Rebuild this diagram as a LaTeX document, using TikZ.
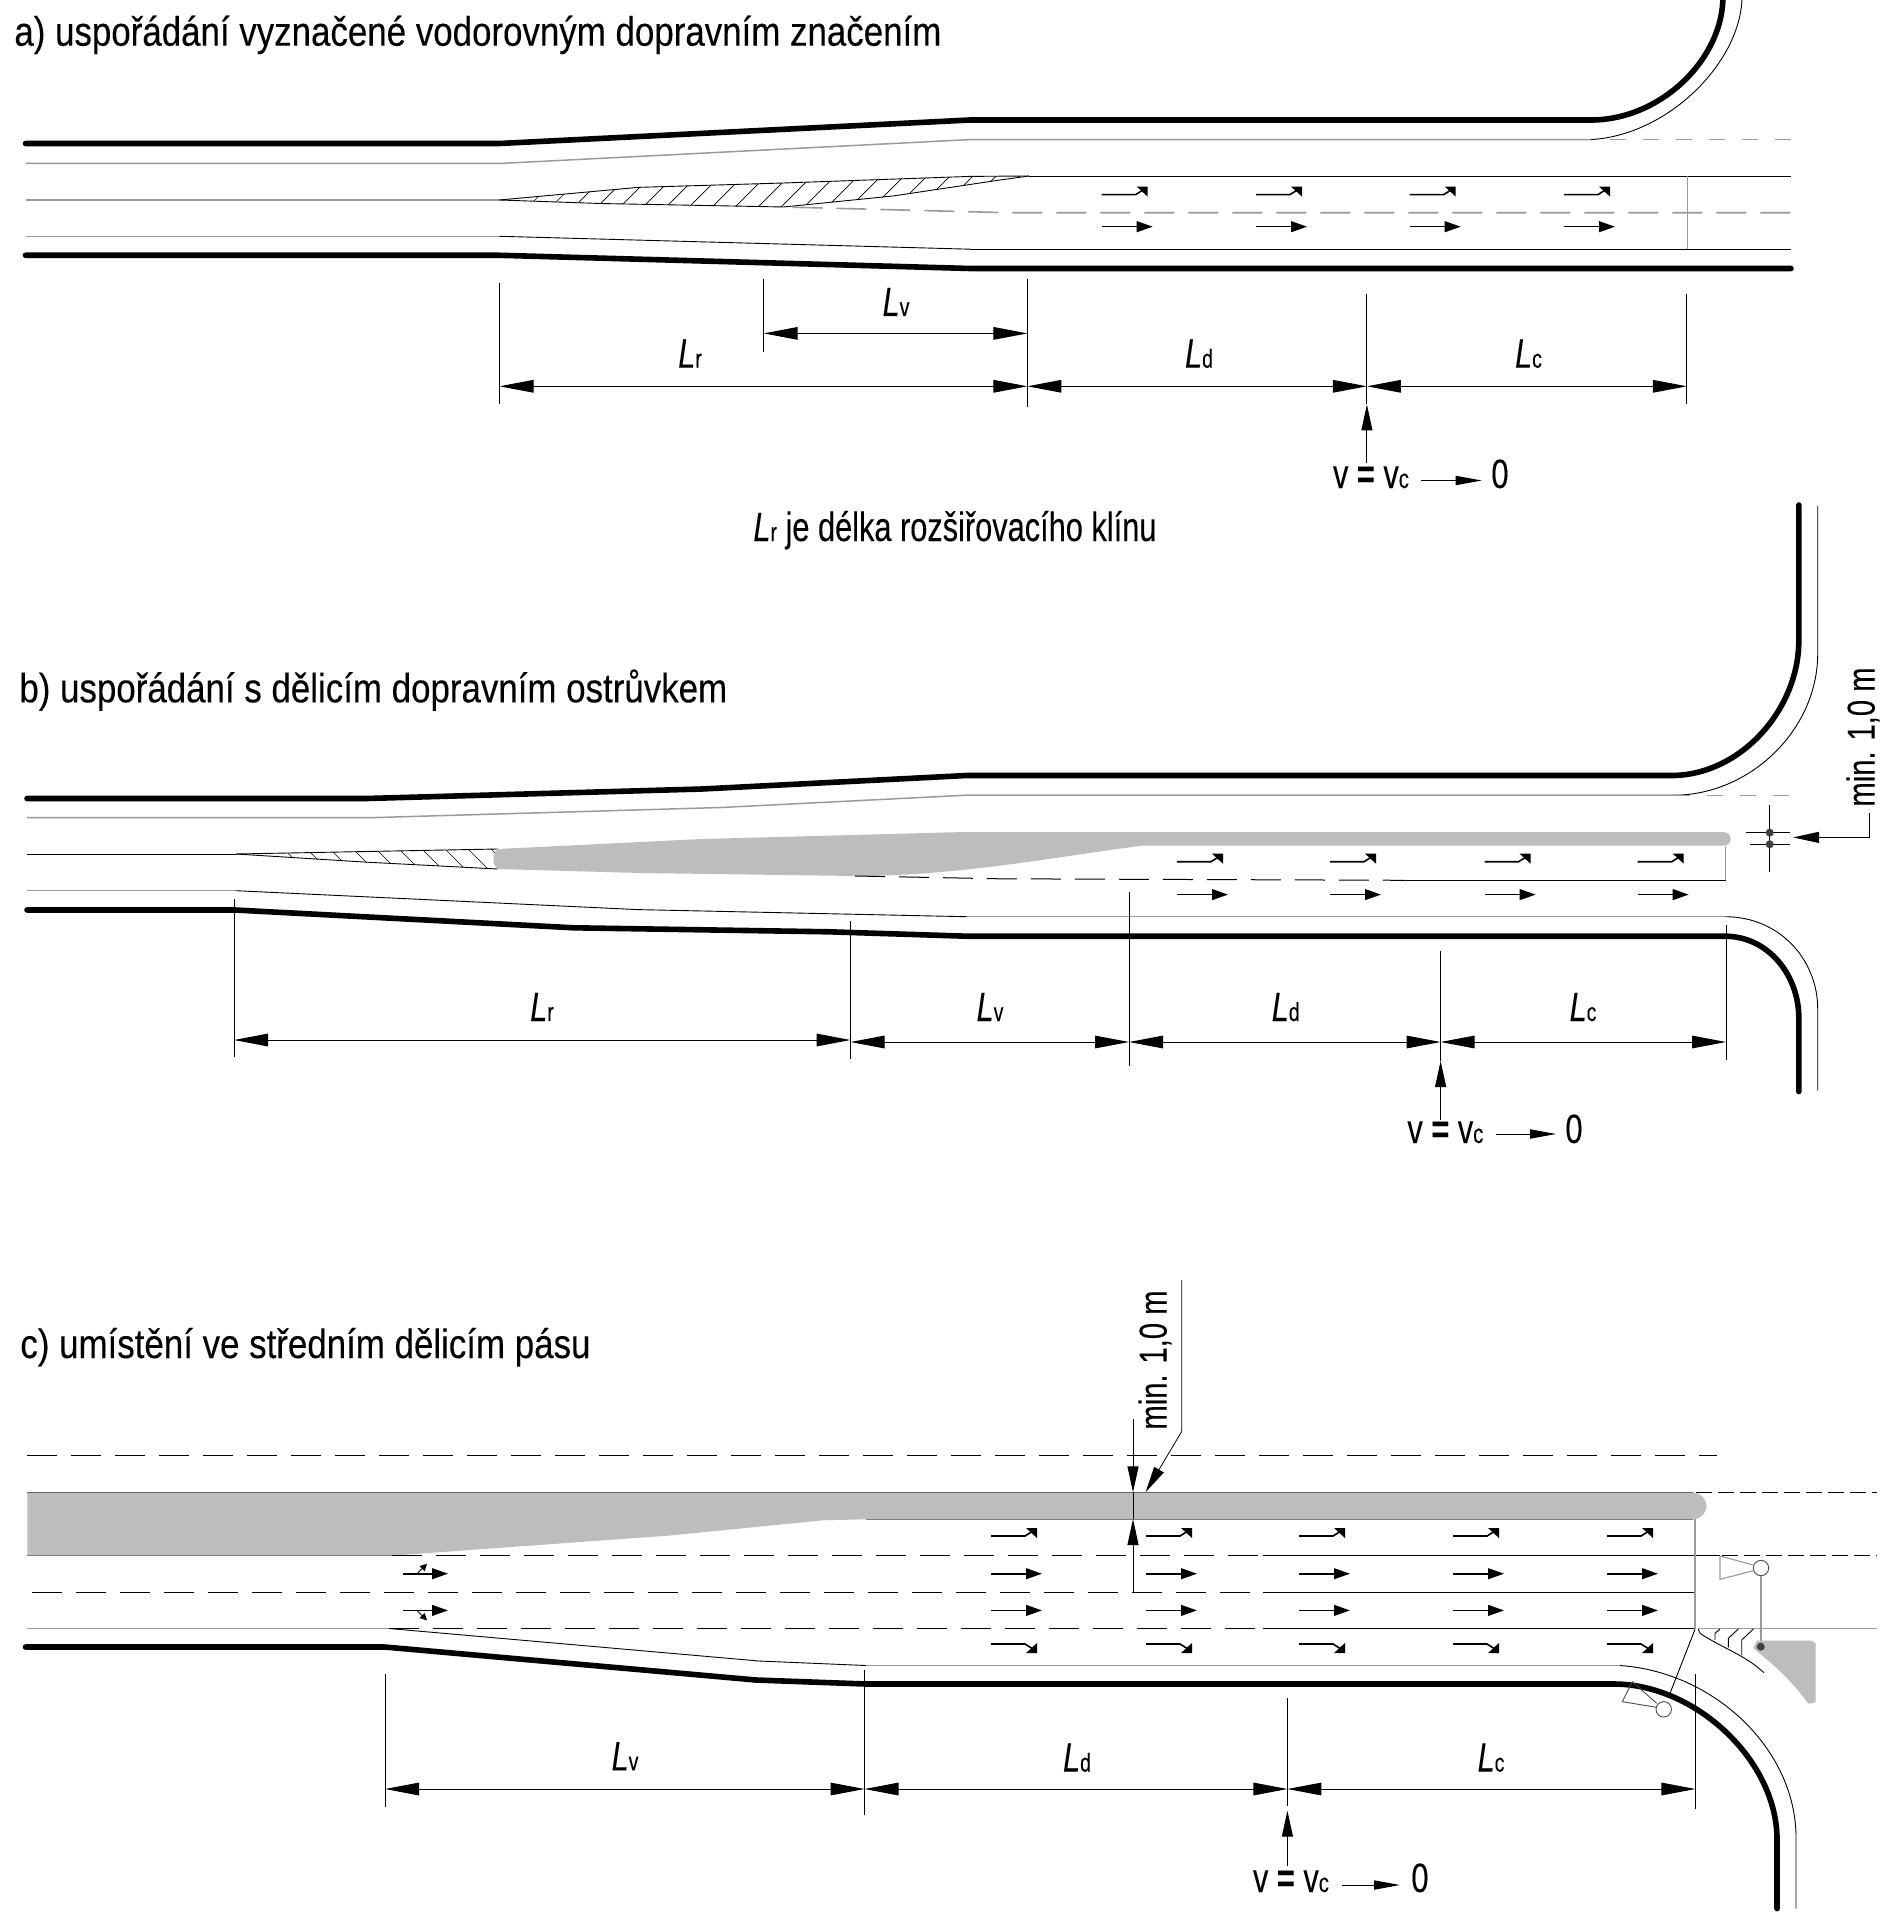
\documentclass[tikz,border=0pt]{standalone}
\usepackage{fontspec}
\usetikzlibrary{arrows.meta}
\newfontfamily\nf[FakeStretch=0.75,FakeBold=0.15]{Liberation Sans}
\newfontfamily\tf[FakeStretch=0.851,FakeBold=0.15]{Liberation Sans}
\newcommand{\Lsub}[1]{{\itshape\fontsize{20.5}{21}\selectfont L}{\fontsize{13}{14}\selectfont #1}}
\newcommand{\vvc}{{\fontsize{20.5}{21}\selectfont v {\bfseries =} v}{\fontsize{13.5}{14}\selectfont c}}
\definecolor{band}{HTML}{BDBDBD}
\definecolor{edge}{HTML}{9A9A9A}
\tikzset{
  txt/.style={inner sep=0pt,font=\nf\fontsize{20.5}{23}\selectfont},
  head/.style={inner sep=0pt,font=\tf\fontsize{20.5}{23}\selectfont},
  kerb/.style={line width=2.8pt,line cap=round,line join=round},
  hair/.style={line width=0.45pt},
  pale/.style={line width=0.75pt,draw=edge},
  greydash/.style={line width=0.8pt,draw=edge,dash pattern=on 15pt off 7pt},
  shortdash/.style={line width=0.7pt,draw=edge,dash pattern=on 8pt off 8.5pt},
  blackdash/.style={line width=0.5pt,dash pattern=on 15pt off 7pt},
  finedash/.style={line width=0.45pt,dash pattern=on 8pt off 3pt},
  dimen/.style={line width=0.5pt,{Triangle[length=17pt,width=6.3pt]}-{Triangle[length=17pt,width=6.3pt]}},
  uparrow/.style={line width=0.5pt,-{Triangle[length=13pt,width=5.5pt]}},
  zeroarrow/.style={line width=0.5pt,-{Triangle[length=13pt,width=4.6pt]}},
  lanearrow/.style={line width=0.8pt,-{Triangle[length=8pt,width=5.4pt]}},
  lanebar/.style={line width=0.8pt},
  hatch/.style={line width=0.35pt},
}
\newcommand{\turnup}[2]{\draw[lanebar] (#1,#2) -- ++(34,0) -- ++(8,-5);
  \fill (#1+35,#2-8) -- ++(11,0) -- ++(0,10) -- cycle;}
\newcommand{\turndown}[2]{\draw[lanebar] (#1,#2) -- ++(34,0) -- ++(8,5);
  \fill (#1+35,#2+9) -- ++(11,0) -- ++(0,-10) -- cycle;}
\newcommand{\straight}[2]{\draw[lanearrow] (#1,#2) -- ++(51,0);}
\begin{document}
\begin{tikzpicture}[x=0.5pt,y=-0.5pt]
\useasboundingbox (0,0) rectangle (1896,1925);
\fill[white] (0,0) rectangle (1896,1925);
\clip (0,0) rectangle (1896,1925);

%% ---------- panel a ----------
\node[head,anchor=base west] (ta) at (14,45.7) {a) uspořádání vyznačené vodorovným dopravním značením};
\draw[kerb] (25.5,143.5) -- (499.5,143.5) -- (970,120) -- (1591,120) .. controls (1660,120) and (1723,60) .. (1723,-4);
\draw[pale] (25.5,163.5) -- (499.5,163.5) -- (970,139.6) -- (1591,139.6);
\draw[hair] (1591,139.6) .. controls (1670,135) and (1742,60) .. (1742,-4);
\draw[shortdash,dash phase=9pt] (1595,139.6) -- (1791,139.6);
\draw[pale] (25.5,200) -- (499.5,200);
\begin{scope}
  \clip (499.5,200) -- (638,187.4) -- (783.5,183) -- (970,176.4) -- (1029,176) -- (1000,180) -- (893,196) -- (783.5,207) -- (600,203.5) -- cycle;
  \foreach \x in {520,543,...,1040} \draw[hatch] (\x,215) -- +(45,-45);
\end{scope}
\draw[hair] (499.5,200) -- (638,187.4) -- (783.5,183) -- (970,176.4) -- (1029,176);
\draw[hair] (499.5,200) -- (600,203.5) -- (783.5,207) -- (893,196) -- (1000,180) -- (1029,176);
\draw[line width=0.6pt] (1029,176.4) -- (1791,176.4);
\draw[greydash,dash phase=17.5pt] (783.5,207) -- (1011,212.8) -- (1791,212.8);
\draw[pale] (25.5,236.3) -- (499.5,236.3);
\draw[hair] (499.5,236.3) -- (970,249.2);
\draw[line width=0.6pt] (970,249.2) -- (1791,249.2);
\draw[kerb] (25.5,255.3) -- (499.5,255.3) -- (970,268.5) -- (1791,268.5);
\draw[hair,draw=edge] (1687,176.4) -- (1687,249.2);
\foreach \x in {1101.7,1256,1409.7,1564} {\turnup{\x}{194.6}\straight{\x}{226.7}}
\draw[hair] (499.5,283) -- (499.5,404.5);
\draw[hair] (763.7,279) -- (763.7,352);
\draw[hair] (1027.4,279) -- (1027.4,407);
\draw[hair] (1366.9,294) -- (1366.9,404.5);
\draw[hair] (1686.9,294) -- (1686.9,404.5);
\draw[dimen] (763.7,333.4) -- (1027.4,333.4);
\draw[dimen] (499.5,386.3) -- (1027.4,386.3);
\draw[dimen] (1027.4,386.3) -- (1366.9,386.3);
\draw[dimen] (1366.9,386.3) -- (1686.9,386.3);
\node[txt,anchor=base] (alv) at (896,316) {\Lsub{v}};
\node[txt,anchor=base] (alr) at (690,367.7) {\Lsub{r}};
\node[txt,anchor=base] (ald) at (1199,367.7) {\Lsub{d}};
\node[txt,anchor=base] (alc) at (1528.5,367.7) {\Lsub{c}};
\node[txt,anchor=base west] (avv) at (1332.6,488) {\vvc};
\node[txt,anchor=base west] (aze) at (1491,488) {0};
\coordinate (aup) at (1366.9,463);
\coordinate (atip) at (1366.9,404.5);
\draw[uparrow] (aup) -- (atip);
\coordinate (az0) at (1421,480.5);
\coordinate (az1) at (1481.7,480.5);
\draw[zeroarrow] (az0) -- (az1);
\node[txt,anchor=base west] (cap) at (753,541) {\Lsub{r} je délka rozšiřovacího klínu};

%% ---------- panel b ----------
\node[head,anchor=base west] (tb) at (19,702.3) {b) uspořádání s dělicím dopravním ostrůvkem};
\draw[kerb] (27,798.5) -- (367,798.5) -- (702,789) -- (966.6,775.5) -- (1671.4,775.5) .. controls (1740,775.5) and (1798.8,710) .. (1798.8,640.5) -- (1798.8,505);
\draw[pale] (27,817.7) -- (370,817.7) -- (721,807.5) -- (966.6,795.2) -- (1674,795.2);
\draw[hair] (1674,795.2) .. controls (1750,795) and (1817.7,730) .. (1817.7,653.5) -- (1817.7,506);
\draw[shortdash] (1674,795.2) -- (1791.4,795.2);
\draw[line width=0.5pt] (27.4,854) -- (236,854);
\begin{scope}
  \clip (236,854) -- (497.6,849) -- (497.6,869) -- (363.7,862) -- cycle;
  \foreach \x in {280,303,...,500} \draw[hatch] (\x,845) -- +(28,28);
\end{scope}
\draw[hair] (236,854) -- (497.6,849);
\draw[hair] (236,854) -- (363.7,862) -- (497.6,869);
\fill[band] (497.6,849) -- (702,839) -- (957,832.2) -- (1724,832.2) arc[start angle=-90,end angle=90,radius=6.7] -- (1143,845.6) .. controls (1060,856) and (960,876) .. (855,876) -- (640,873) -- (497.6,869) .. controls (492,864) and (492,854) .. (497.6,849) -- cycle;
\draw[blackdash] (855,876) -- (1000,878.8) -- (1405.7,880.3);
\draw[line width=0.55pt] (1405.7,880.3) -- (1725.7,880.3);
\draw[hair,draw=edge] (1725.7,845.6) -- (1725.7,880.3);
\draw[pale] (27,890.7) -- (236,890.7);
\draw[hair] (236,890.7) -- (638,909.6) -- (966.6,916.7);
\draw[pale] (966.6,916.7) -- (1725.7,916.7);
\draw[hair] (1725.7,916.7) .. controls (1780,917) and (1817.7,960) .. (1817.7,1009) -- (1817.7,1090.6);
\draw[kerb] (27,910) -- (235,910) -- (574,927.8) -- (829,931.8) -- (966.6,936.2) -- (1725,936.2) .. controls (1768,936.2) and (1798.8,975) .. (1798.8,1017.8) -- (1798.8,1091.5);
\foreach \x in {1177,1330,1484.6,1637.7} {\turnup{\x}{861.7}\straight{\x}{894.6}}
\draw[hair] (234,899) -- (234,1056.8);
\draw[hair] (850.5,920.5) -- (850.5,1058.5);
\draw[hair] (1129,892) -- (1129,1065.5);
\draw[hair] (1440.6,950.6) -- (1440.6,1061);
\draw[hair] (1726,925.4) -- (1726,1060);
\draw[dimen] (234,1040) -- (850.5,1040);
\draw[dimen] (850.5,1042) -- (1129,1042);
\draw[dimen] (1129,1042) -- (1440.6,1042);
\draw[dimen] (1440.6,1042) -- (1726,1042);
\node[txt,anchor=base] (blr) at (542,1021) {\Lsub{r}};
\node[txt,anchor=base] (blv) at (990,1021) {\Lsub{v}};
\node[txt,anchor=base] (bld) at (1285.7,1021) {\Lsub{d}};
\node[txt,anchor=base] (blc) at (1583,1021) {\Lsub{c}};
\node[txt,anchor=base west] (bvv) at (1407,1143) {\vvc};
\node[txt,anchor=base west] (bze) at (1565,1143) {0};
\coordinate (bup) at (1440.6,1119.7);
\coordinate (btip) at (1440.6,1061);
\draw[uparrow] (bup) -- (btip);
\coordinate (bz0) at (1496,1134);
\coordinate (bz1) at (1556,1134);
\draw[zeroarrow] (bz0) -- (bz1);
\node[txt,anchor=center,rotate=90,font=\nf\fontsize{19.5}{21}\selectfont] (bmin) at (1863,737) {min. 1,0 m};
\coordinate (bl0) at (1869.7,813);
\coordinate (bl1) at (1869.7,837.4);
\coordinate (bl2) at (1793,837.4);
\draw[uparrow,line width=0.5pt] (bl0) -- (bl1) -- (bl2);
\draw[hair] (1769.7,805) -- (1769.7,871.6);
\draw[hair] (1745.7,832.6) -- (1789.7,832.6);
\draw[hair] (1749.7,844.3) -- (1789.7,844.3);
\fill[black!75] (1769.7,832.6) circle[radius=4];
\fill[black!75] (1769.7,844.3) circle[radius=4];

%% ---------- panel c ----------
\node[head,anchor=base west] (tc) at (20,1358) {c) umístění ve středním dělicím pásu};
\draw[blackdash] (27.4,1455.3) -- (1717,1455.3);
\fill[band] (27.4,1492.5) -- (1693,1492.5) arc[start angle=-90,end angle=90,radius=13.4] -- (865.8,1519.3) -- (823,1520.3) -- (670,1535.5) -- (392.4,1555.6) -- (27.4,1555.6) -- cycle;
\draw[line width=0.5pt,draw=black!60] (27.4,1492.5) -- (1693,1492.5);
\draw[line width=0.4pt,draw=black!50] (27.4,1555.6) -- (392.4,1555.6);
\draw[line width=0.4pt,draw=black!50] (865.8,1519.3) -- (1693,1519.3);
\draw[finedash] (1696,1492.7) -- (1877,1492.7);
\draw[blackdash,line width=0.4pt] (392.4,1555.6) -- (1263,1555.6);
\draw[line width=0.5pt] (1263,1555.6) -- (1720,1555.6);
\draw[finedash] (1722,1555.6) -- (1877,1555.6);
\draw[blackdash] (32,1592.3) -- (1263,1592.3);
\draw[line width=0.55pt] (1263,1592.3) -- (1695,1592.3);
\draw[pale,line width=0.5pt] (27.4,1628.5) -- (389,1628.5);
\draw[blackdash,line width=0.4pt] (389,1628.5) -- (1263,1628.5);
\draw[line width=0.5pt] (1263,1628.5) -- (1695,1628.5);
\draw[pale,line width=0.5pt] (1698,1628.5) -- (1877,1628.5);
\draw[line width=0.75pt,draw=edge] (1695,1519.3) -- (1695,1628.5);
\draw[hair] (389,1628.5) -- (759,1661) -- (865.8,1665.5);
\draw[pale,line width=0.5pt] (865.8,1665.5) -- (1620,1665.5);
\draw[hair] (1620,1665.5) .. controls (1715,1672) and (1796,1750) .. (1796,1837.5) -- (1796,1908.6);
\draw[kerb] (25.5,1647) -- (384.7,1647) -- (756,1680) -- (865.8,1684) -- (1614,1684) .. controls (1695,1684) and (1777,1760) .. (1777,1839.5) -- (1777,1908.6);
\foreach \x in {991,1146,1299,1453,1607} {\turnup{\x}{1536}\straight{\x}{1573.7}\straight{\x}{1610.4}\turndown{\x}{1644}}
% small arrows with side barbs
\draw[lanearrow] (403,1573.7) -- ++(45,0);
\draw[lanearrow] (403,1610.4) -- ++(45,0);
\draw[hair,-{Triangle[length=3.5pt,width=3.5pt]}] (417,1573.7) -- ++(10,-10);
\draw[hair,-{Triangle[length=3.5pt,width=3.5pt]}] (417,1610.4) -- ++(10,10);
\draw[hair] (385,1674) -- (385,1806.6);
\draw[hair] (864.5,1670) -- (864.5,1815);
\draw[hair] (1287.4,1698.4) -- (1287.4,1806);
\draw[hair] (1695.4,1674) -- (1695.4,1808.7);
\draw[dimen] (385,1789) -- (864.5,1789);
\draw[dimen] (864.5,1789) -- (1287.4,1789);
\draw[dimen] (1287.4,1789) -- (1695.4,1789);
\node[txt,anchor=base] (clv) at (625,1770.4) {\Lsub{v}};
\node[txt,anchor=base] (cld) at (1077,1771.6) {\Lsub{d}};
\node[txt,anchor=base] (clc) at (1491,1771.6) {\Lsub{c}};
\node[txt,anchor=base west] (cvv) at (1252.6,1892) {\vvc};
\node[txt,anchor=base west] (cze) at (1411,1892) {0};
\coordinate (cup) at (1287.4,1866);
\coordinate (ctip) at (1287.4,1810.7);
\draw[uparrow] (cup) -- (ctip);
\coordinate (cz0) at (1341.7,1885);
\coordinate (cz1) at (1400,1885);
\draw[zeroarrow] (cz0) -- (cz1);
\node[txt,anchor=center,rotate=90,font=\nf\fontsize{19.5}{21}\selectfont] (cmin) at (1155,1360) {min. 1,0 m};
\coordinate (cl0) at (1181.7,1280);
\coordinate (cl1) at (1181.7,1431.4);
\coordinate (cl2) at (1145.7,1492);
\draw[uparrow,line width=0.4pt] (cl0) -- (cl1) -- (cl2);
% min-width dimension through the band
\coordinate (cd0) at (1133,1419);
\coordinate (cd1) at (1133,1492.3);
\coordinate (cd2) at (1133,1592);
\coordinate (cd3) at (1133,1519);
\draw[uparrow] (cd0) -- (cd1);
\draw[uparrow] (cd2) -- (cd3);
\draw[hair] (cd1) -- (cd3);
% signal on the right
\node[circle,draw=black!70,line width=0.45pt,minimum size=15.4*0.5pt,inner sep=0pt,fill=white] (s1) at (1761,1568) {};
\draw[pale,line width=0.55pt] (1753.3,1565) -- (1720,1556) -- (1720,1579.3) -- (1753.3,1570.7);
\draw[pale] (s1.south) -- (1761,1643);
\path[fill=band] (1756.7,1640.7) -- (1811.7,1640.7) -- (1815.7,1643.3) -- (1815.7,1701.7) -- (1812.3,1703.3) -- (1808,1703.3) .. controls (1790,1678) and (1770,1662) .. (1753.3,1648) -- cycle;
\fill[black!75] (1760.7,1646.7) circle[radius=4];
\draw[hair] (1698.3,1629.3) -- (1700,1633.3) .. controls (1722,1648) and (1745,1655) .. (1764,1672.7);
\draw[hair] (1715,1640) -- (1715,1633.3) -- (1720,1629);
\draw[hair] (1728.3,1647.3) -- (1728.3,1638.3) -- (1738.3,1629);
\draw[hair] (1741.7,1655) -- (1741.7,1640) -- (1753.3,1629);
\draw[hair] (1695,1629.3) -- (1670,1693.3);
\node[circle,draw=black!70,line width=0.45pt,minimum size=15.4*0.5pt,inner sep=0pt,fill=white] (s2) at (1663.7,1709.3) {};
\draw[hair,draw=black!70] (1656.7,1703.3) -- (1632.3,1681.7) -- (1622.3,1701.7) -- (1656.7,1707.3);
\end{tikzpicture}
\end{document}
